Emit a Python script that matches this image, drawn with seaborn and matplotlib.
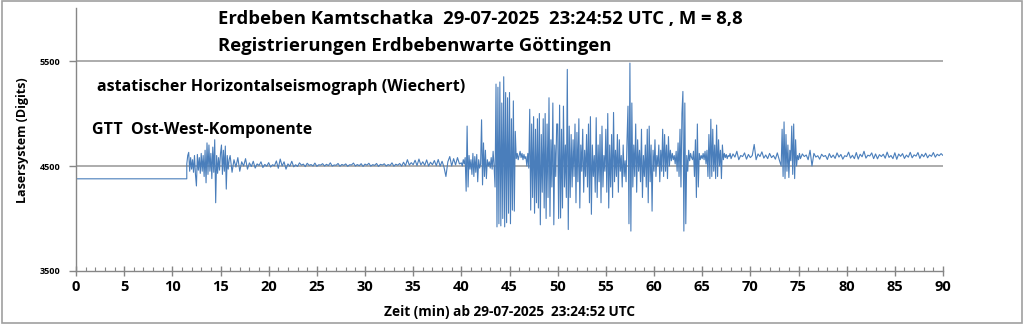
import numpy as np
import pandas as pd
import matplotlib
matplotlib.use("Agg")
import matplotlib.pyplot as plt
from matplotlib.patches import Rectangle
from matplotlib.ticker import MultipleLocator
import seaborn as sns

# ---------------- data ----------------
# Segments: (start minute, step in minutes, values in Digits)
pre_t = [0.0, 11.5]
pre_v = [4378, 4378]

seg1_start, seg1_step = 11.5, 0.1
seg1_v = [4520, 4600, 4630, 4450, 4580, 4470, 4560, 4440, 4600, 4420,
          4310, 4610, 4460, 4580, 4430, 4620, 4450, 4600, 4400, 4650,
          4340, 4720, 4420, 4700, 4450, 4620, 4380, 4680, 4440, 4750,
          4150, 4600, 4430, 4580, 4460, 4620, 4700, 4420, 4650, 4450,
          4690, 4280, 4600, 4470, 4560]

seg2_start, seg2_step = 16.0, 0.2
seg2_v = [4600, 4440, 4560, 4490, 4580, 4450, 4540, 4500, 4570, 4470,
          4530, 4495, 4545, 4480, 4520, 4505, 4540, 4485, 4515, 4498,
          4532, 4490, 4512, 4502, 4548, 4478, 4566, 4500, 4540, 4470,
          4520, 4498, 4545, 4492, 4512, 4496, 4530, 4508, 4518, 4494,
          4526, 4506, 4514, 4500, 4528, 4497, 4512, 4509, 4522, 4500,
          4516, 4504, 4530, 4499, 4510, 4507, 4524, 4498, 4515, 4506,
          4520, 4497, 4512, 4510, 4528, 4500, 4514, 4503, 4522, 4496,
          4518, 4508, 4526, 4499, 4513, 4506, 4524, 4496, 4516, 4509,
          4521, 4500, 4514, 4505, 4530, 4498, 4517, 4507, 4524, 4499,
          4536, 4502, 4560, 4508, 4532, 4512, 4555, 4504, 4566, 4510,
          4540, 4506, 4558, 4500, 4536, 4512, 4552, 4503, 4562, 4498,
          4545, 4490, 4400, 4540, 4590, 4500, 4570, 4510, 4580, 4520]

seg3_start, seg3_step = 40.0, 0.1
seg3_v = [4530, 4500, 4560, 4520, 4580, 4260, 4880, 4300, 4600, 4470,
          4560, 4420, 4620, 4400, 4590, 4440, 4610, 4350, 4560, 4480,
          4520, 4940, 4320, 4720, 4400, 4650, 4380, 4560, 4500, 4540,
          4480, 4580, 4470, 4640, 4500, 4300, 5280, 3920, 5250, 3950,
          5300, 3930, 5100, 4000, 5350, 3920, 5200, 3960, 5150, 4050,
          5200, 3950, 4950, 4080, 5120, 4070, 4830, 4570, 4620, 4560,
          4600, 4640, 4580, 4620, 4560, 4610, 4570, 4590, 4500, 4620,
          4480, 5040, 4080, 4900, 4200, 4970, 4050, 4850, 4150, 4950,
          4100, 5000, 3940, 4800, 4250, 4950, 4100, 5000, 4000, 4900,
          4200, 5150, 4020, 4750, 4300, 5100, 3940, 4700, 4400, 4900,
          4900, 4000, 5080, 4005, 4850, 4100, 5070, 4300, 4700, 4200,
          5420, 3895, 4880, 4200, 4800, 4300, 4750, 4400, 4900, 4150,
          4820, 4350, 4950, 4100, 4700, 4450, 4850, 4250, 4650, 4400,
          4800, 4300, 4900, 4150, 4970, 4040, 4700, 4400, 4600, 4250,
          4960, 4200, 4700, 4350, 4800, 4150, 4880, 4300, 4600, 4450,
          4850, 4250, 5000, 4100, 4700, 4300, 4800, 4200, 5010, 4350,
          4650, 4400, 4800, 4250, 4750, 4450, 4600, 4300, 4700, 4400,
          4550, 4350, 4750, 5070, 3950, 5480, 3880, 5100, 4300, 4700,
          4400, 4900, 4250, 4750, 4450, 4650, 4350, 4850, 4200, 4600,
          4400, 4700, 4300, 4850, 4150, 4880, 4350, 4700, 4070, 4650,
          4450, 4750, 4400, 4600, 4500, 4700, 4350, 4650, 4450, 4850,
          4400, 4800, 4450, 4700, 4380, 4780, 4500, 4650, 4550, 4620,
          4560, 4600, 4520, 4640, 4450, 4720, 4400, 4850, 4300, 5000,
          5210, 3880, 5100, 3950, 4600, 4450, 4650, 4550, 4620, 4580,
          4560, 4640, 4400, 4750, 4200, 4900, 4300, 4620, 4560, 4600,
          4570, 4620, 4560, 4640, 4520, 4650, 4400, 4800, 4380, 4945,
          4400, 4850, 4450, 4700, 4380, 4890, 4400, 4750, 4500, 4650,
          4380, 4700, 4560, 4620, 4580, 4610, 4570, 4600, 4590, 4620]

seg4_start, seg4_step = 68.0, 0.2
seg4_v = [4570, 4615, 4585, 4640, 4560, 4600, 4590, 4625, 4565, 4610,
          4580, 4600, 4705, 4560, 4615, 4590, 4635, 4575, 4605, 4570,
          4620, 4580, 4600, 4565, 4625, 4560]

seg5_start, seg5_step = 73.2, 0.1
seg5_v = [4500, 4850, 4400, 4920, 4380, 4800, 4450, 4700, 4390, 4650,
          4550, 4880, 4420, 4900, 4380, 4750, 4500, 4600, 4560, 4620]

seg6_start, seg6_step = 75.2, 0.2
seg6_v = [4570, 4615, 4590, 4605, 4560, 4650, 4500, 4620, 4585, 4598,
          4565, 4612, 4590, 4600, 4562, 4618, 4580, 4604, 4572, 4625,
          4585, 4610, 4565, 4598, 4590, 4632, 4575, 4602, 4570, 4628,
          4566, 4612, 4588, 4640, 4575, 4603, 4595, 4625, 4570, 4615,
          4568, 4608, 4590, 4612, 4574, 4632, 4582, 4600, 4570, 4626,
          4564, 4614, 4592, 4618, 4572, 4604, 4584, 4630, 4578, 4606,
          4594, 4628, 4572, 4612, 4588, 4622, 4578, 4606, 4592, 4628,
          4584, 4612, 4598, 4618, 4600]

x_ticks = [0, 5, 10, 15, 20, 25, 30, 35, 40, 45, 50, 55, 60, 65, 70, 75, 80, 85, 90]
y_ticks = [3500, 4500, 5500]

title1 = "Erdbeben Kamtschatka  29-07-2025  23:24:52 UTC , M = 8,8"
title2 = "Registrierungen Erdbebenwarte Göttingen"
note1 = "astatischer Horizontalseismograph (Wiechert)"
note2 = "GTT  Ost-West-Komponente"
xlabel = "Zeit (min) ab 29-07-2025  23:24:52 UTC"
ylabel = "Lasersystem (Digits)"

# ---------------- assemble table ----------------
times = list(pre_t)
vals = list(pre_v)
for st, sp, v in [(seg1_start, seg1_step, seg1_v), (seg2_start, seg2_step, seg2_v),
                  (seg3_start, seg3_step, seg3_v), (seg4_start, seg4_step, seg4_v),
                  (seg5_start, seg5_step, seg5_v), (seg6_start, seg6_step, seg6_v)]:
    times += list(st + sp * np.arange(len(v)))
    vals += list(v)
df = pd.DataFrame({"t": times, "v": vals})

# ---------------- plot ----------------
sns.set_theme(style="white")
plt.rcParams["font.family"] = ["Open Sans", "DejaVu Sans"]
plt.rcParams["text.color"] = "black"

fig = plt.figure(figsize=(10.24, 3.24), dpi=100)
fig.patches.append(Rectangle((0.002, 0.004), 0.996, 0.992, transform=fig.transFigure,
                             fill=False, edgecolor="#A0A0A0", linewidth=1.2))
ax = fig.add_axes([76 / 1024, 1 - 271 / 324, (943 - 76) / 1024, (271 - 8.5) / 324])

for g in [4500, 5500]:
    ax.axhline(g, color="#A6A6A6", linewidth=1.3, zorder=0)

sns.lineplot(data=df, x="t", y="v", ax=ax, color="#4A7EBB", linewidth=0.8,
             estimator=None, sort=False)

ax.set_xlim(0, 90)
ax.set_ylim(3500, 6000)
ax.set_xticks(x_ticks)
ax.set_xticklabels([str(t) for t in x_ticks], fontsize=10.5, fontweight="bold", color="black")
ax.xaxis.set_minor_locator(MultipleLocator(1))
ax.set_yticks(y_ticks)
ax.set_yticklabels([str(t) for t in y_ticks], fontsize=6.5, fontweight="bold", color="black")

for s in ["top", "right"]:
    ax.spines[s].set_visible(False)
for s in ["left", "bottom"]:
    ax.spines[s].set_color("#868686")
    ax.spines[s].set_linewidth(1.0)

ax.tick_params(axis="x", which="major", direction="inout", length=7, width=1,
               color="#868686", pad=3, bottom=True)
ax.tick_params(axis="x", which="minor", direction="in", length=3, width=0.8,
               color="#868686", bottom=True)
ax.tick_params(axis="y", which="major", direction="out", length=5, width=1,
               color="#868686", pad=6, left=True)

ax.set_xlabel("")
ax.set_ylabel("")
fig.text(509 / 1024, 1 - 312 / 324, xlabel, ha="center", va="center",
         fontsize=9.8, fontweight="bold", color="black")
fig.text(23 / 1024, 1 - 140 / 324, ylabel, ha="center", va="center",
         rotation=90, fontsize=9, fontweight="bold", color="black")

fig.text(218 / 1024, 1 - 19 / 324, title1, ha="left", va="center",
         fontsize=13.3, fontweight="bold", color="black")
fig.text(218 / 1024, 1 - 46 / 324, title2, ha="left", va="center",
         fontsize=13.3, fontweight="bold", color="black")
fig.text(97 / 1024, 1 - 87 / 324, note1, ha="left", va="center",
         fontsize=11.5, fontweight="bold", color="black")
fig.text(92 / 1024, 1 - 130 / 324, note2, ha="left", va="center",
         fontsize=11.5, fontweight="bold", color="black")

fig.savefig("out.png", dpi=100, facecolor="white")
